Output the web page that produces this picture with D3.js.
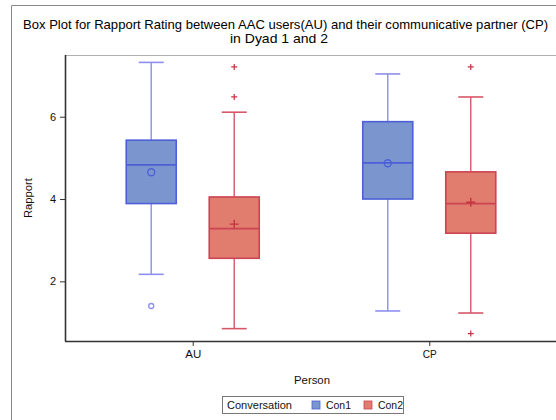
<!DOCTYPE html>
<html>
<head>
<meta charset="utf-8">
<script src="https://cdn.jsdelivr.net/npm/d3@7"></script>
<style>
  html, body { margin: 0; padding: 0; background: #fff; }
  svg { display: block; font-family: "Liberation Sans", Arial, sans-serif; }
</style>
</head>
<body>
<svg id="chart" width="556" height="420"></svg>
<script>
// Rapport ratings by person and conversation
const persons = ["AU", "CP"];
const conversations = ["Con1", "Con2"];
const yTicks = [2, 4, 6];

// five-number summaries, means and outliers, in the order persons x conversations
const boxPerson   = ["AU", "AU", "CP", "CP"];
const boxConv     = ["Con1", "Con2", "Con1", "Con2"];
const whiskerLow  = [2.17, 0.85, 1.28, 1.23];
const q1Values    = [3.89, 2.56, 4.00, 3.17];
const medians     = [4.83, 3.28, 4.88, 3.89];
const q3Values    = [5.43, 4.05, 5.88, 4.66];
const whiskerHigh = [7.32, 6.11, 7.04, 6.48];
const means       = [4.65, 3.39, 4.87, 3.92];
const outliers    = [[1.40], [7.21, 6.48], [], [7.21, 0.73]];

const boxes = boxPerson.map((p, i) => ({
  person: p, conv: boxConv[i],
  lo: whiskerLow[i], q1: q1Values[i], med: medians[i], q3: q3Values[i],
  hi: whiskerHigh[i], mean: means[i], out: outliers[i]
}));

const styles = {
  Con1: { fill: "#7b96cf", edge: "#4d5fd6", whisk: "#8e8ef2", mark: "#4d5fd6" },
  Con2: { fill: "#e07d6f", edge: "#cc4452", whisk: "#d65868", mark: "#c8323f" }
};

const svg = d3.select("#chart");
const plot = { left: 65, right: 560, top: 55, bottom: 341 };

const x = d3.scalePoint().domain(persons).range([plot.left, 557]).padding(0.54);
const dx = d3.scalePoint().domain(conversations).range([-41.5, 41.5]);
const y = d3.scaleLinear().domain([0.55, 7.5]).range([plot.bottom, plot.top]);
const boxW = 50, capW = 25;

// condensed label helper: fixes the drawn width of a text element
function squeeze(sel, w) {
  return sel.attr("textLength", w).attr("lengthAdjust", "spacingAndGlyphs");
}

// outer graph frame
svg.append("path")
  .attr("d", "M11.5,425 V5.5 H560")
  .attr("fill", "none").attr("stroke", "#8a8a8a").attr("stroke-width", 1);

// title
const title = svg.append("g").attr("fill", "#000").attr("font-size", 13).attr("text-anchor", "middle");
squeeze(title.append("text").attr("x", 285.5).attr("y", 28.5)
  .text("Box Plot for Rapport Rating between AAC users(AU) and their communicative partner (CP)"), 525);
squeeze(title.append("text").attr("x", 279).attr("y", 42.5).text("in Dyad 1 and 2"), 98);

// plot frame: light top/right, dark left/bottom axes
svg.append("path")
  .attr("d", `M${plot.left},${plot.top + 0.5} H${plot.right} M${plot.right - 0.5},${plot.top} V${plot.bottom}`)
  .attr("stroke", "#b0b0b0").attr("fill", "none");

// boxes
const g = svg.append("g");
boxes.forEach(b => {
  const cx = x(b.person) + dx(b.conv);
  const s = styles[b.conv];
  const bg = g.append("g");
  // whiskers
  bg.append("line").attr("x1", cx).attr("x2", cx).attr("y1", y(b.q3)).attr("y2", y(b.hi))
    .attr("stroke", s.whisk).attr("stroke-width", 1.4);
  bg.append("line").attr("x1", cx).attr("x2", cx).attr("y1", y(b.q1)).attr("y2", y(b.lo))
    .attr("stroke", s.whisk).attr("stroke-width", 1.4);
  [b.hi, b.lo].forEach(v => {
    bg.append("line").attr("x1", cx - capW / 2).attr("x2", cx + capW / 2)
      .attr("y1", y(v)).attr("y2", y(v))
      .attr("stroke", s.whisk).attr("stroke-width", 1.6);
  });
  // box
  bg.append("rect")
    .attr("x", cx - boxW / 2).attr("y", y(b.q3))
    .attr("width", boxW).attr("height", y(b.q1) - y(b.q3))
    .attr("fill", s.fill).attr("stroke", s.edge).attr("stroke-width", 1.6);
  // median
  bg.append("line").attr("x1", cx - boxW / 2).attr("x2", cx + boxW / 2)
    .attr("y1", y(b.med)).attr("y2", y(b.med))
    .attr("stroke", s.edge).attr("stroke-width", 1.8);
  // mean marker
  if (b.conv === "Con1") {
    bg.append("circle").attr("cx", cx).attr("cy", y(b.mean)).attr("r", 3.5)
      .attr("fill", "none").attr("stroke", s.mark).attr("stroke-width", 1.4);
  } else {
    bg.append("path")
      .attr("d", `M${cx - 4.5},${y(b.mean)} H${cx + 4.5} M${cx},${y(b.mean) - 4.5} V${y(b.mean) + 4.5}`)
      .attr("stroke", s.mark).attr("stroke-width", 1.4);
  }
  // outliers
  b.out.forEach(v => {
    if (b.conv === "Con1") {
      bg.append("circle").attr("cx", cx).attr("cy", y(v)).attr("r", 2.5)
        .attr("fill", "none").attr("stroke", s.whisk).attr("stroke-width", 1.3);
    } else {
      bg.append("path")
        .attr("d", `M${cx - 3},${y(v)} H${cx + 3} M${cx},${y(v) - 3} V${y(v) + 3}`)
        .attr("stroke", s.mark).attr("stroke-width", 1.2);
    }
  });
});

// y axis
const yAxis = svg.append("g").attr("transform", `translate(${plot.left},0)`)
  .call(d3.axisLeft(y).tickValues(yTicks).tickSize(5).tickPadding(4).tickFormat(d3.format("d")));
yAxis.select(".domain").attr("stroke", "#333").attr("stroke-width", 1.6)
  .attr("d", `M0.5,${plot.top} V${plot.bottom + 0.5}`);
yAxis.selectAll(".tick line").attr("stroke", "#333");
yAxis.selectAll(".tick text").attr("font-size", 11).attr("fill", "#111")
  .attr("font-family", "Liberation Sans, Arial, sans-serif");

// x axis
const xAxis = svg.append("g").attr("transform", `translate(0,${plot.bottom})`)
  .call(d3.axisBottom(x).tickSize(5).tickPadding(4));
xAxis.select(".domain").attr("stroke", "#333").attr("stroke-width", 1.6)
  .attr("d", `M${plot.left},0.5 H${plot.right}`);
xAxis.selectAll(".tick line").attr("stroke", "#333");
xAxis.selectAll(".tick text").attr("font-size", 11).attr("fill", "#111")
  .attr("font-family", "Liberation Sans, Arial, sans-serif")
  .each(function(d) { squeeze(d3.select(this), d === "AU" ? 16 : 14); });

// axis titles
squeeze(svg.append("text").attr("transform", "translate(32,198) rotate(-90)")
  .attr("text-anchor", "middle").attr("font-size", 11.5).attr("fill", "#111").text("Rapport"), 40);
squeeze(svg.append("text").attr("x", 312).attr("y", 384)
  .attr("text-anchor", "middle").attr("font-size", 11.5).attr("fill", "#111").text("Person"), 36);

// legend
const lg = svg.append("g");
lg.append("rect").attr("x", 222.5).attr("y", 396.5).attr("width", 181).attr("height", 17)
  .attr("fill", "#fff").attr("stroke", "#777");
squeeze(lg.append("text").attr("x", 227).attr("y", 409).attr("font-size", 11.5).attr("fill", "#111")
  .text("Conversation"), 65);
const legX = d3.scalePoint().domain(conversations).range([312, 364]);
conversations.forEach(c => {
  lg.append("rect").attr("x", legX(c)).attr("y", 401).attr("width", 8).attr("height", 8)
    .attr("fill", styles[c].fill).attr("stroke", styles[c].edge).attr("stroke-width", 0.8);
  squeeze(lg.append("text").attr("x", legX(c) + 14).attr("y", 409).attr("font-size", 11.5)
    .attr("fill", "#111").text(c), 25);
});
</script>
</body>
</html>
